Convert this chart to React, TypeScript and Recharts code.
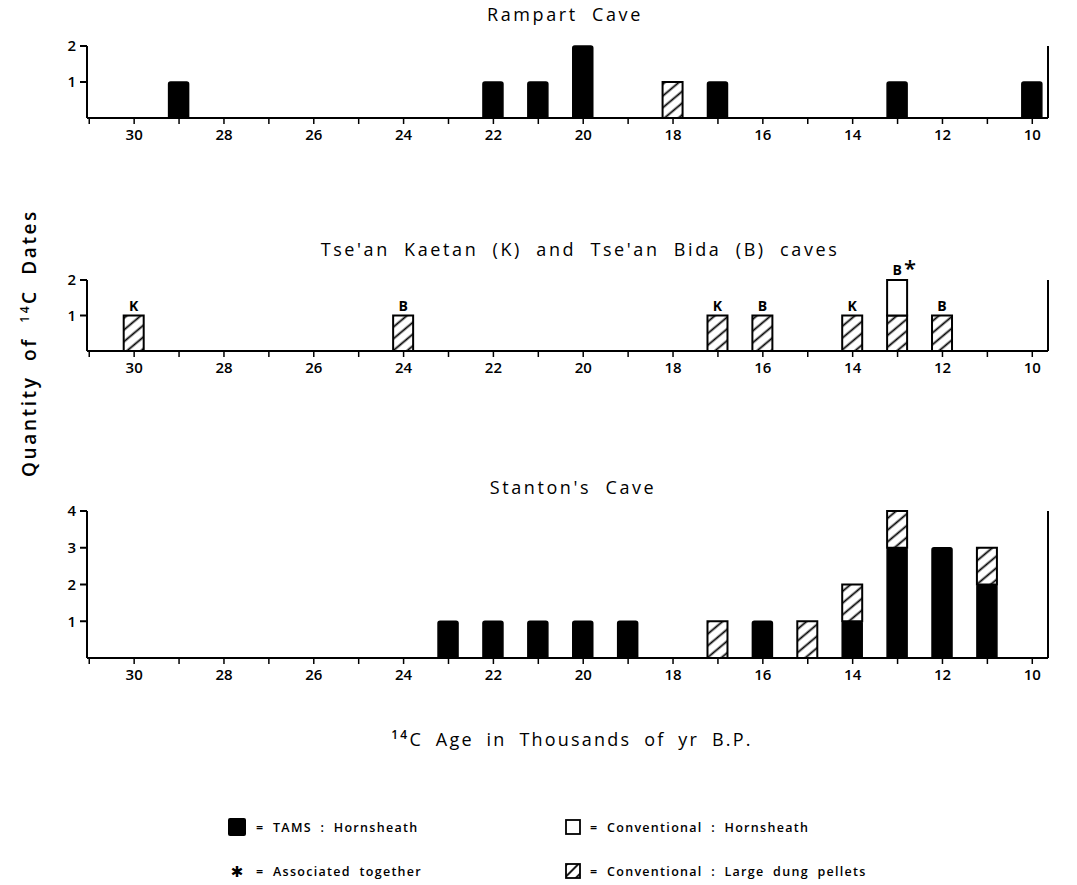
import React from 'react'
import { BarChart, Bar, XAxis, YAxis, LabelList } from 'recharts'

const YEAR_TICKS = [31, 30, 29, 28, 27, 26, 25, 24, 23, 22, 21, 20, 19, 18, 17, 16, 15, 14, 13, 12, 11, 10]

const rampartAges = [29, 22, 21, 20, 18, 17, 13, 10]
const rampartTams = [1, 1, 1, 2, 0, 1, 1, 1]
const rampartDung = [0, 0, 0, 0, 1, 0, 0, 0]
const rampartConv = [0, 0, 0, 0, 0, 0, 0, 0]

const tseanAges = [30, 24, 17, 16, 14, 13, 12]
const tseanTams = [0, 0, 0, 0, 0, 0, 0]
const tseanDung = [1, 1, 1, 1, 1, 1, 1]
const tseanConv = [0, 0, 0, 0, 0, 1, 0]
const tseanSite = ['K', 'B', 'K', 'B', 'K', 'B*', 'B']

const stantonAges = [23, 22, 21, 20, 19, 17, 16, 15, 14, 13, 12, 11]
const stantonTams = [1, 1, 1, 1, 1, 0, 1, 0, 1, 3, 3, 2]
const stantonDung = [0, 0, 0, 0, 0, 1, 0, 1, 1, 1, 0, 1]
const stantonConv = [0, 0, 0, 0, 0, 0, 0, 0, 0, 0, 0, 0]

const ticksTwo = [1, 2]
const ticksFour = [1, 2, 3, 4]

const FONT = '"Open Sans", sans-serif'
const W = 1077

function buildRows(ages: number[], tams: number[], dung: number[], conv: number[], site?: string[]) {
  return ages.map((age, i) => ({
    age,
    tams: tams[i],
    dung: dung[i],
    conv: conv[i],
    // label goes on whichever segment is on top of the stack
    siteDung: site && !conv[i] ? site[i] : undefined,
    siteConv: site && conv[i] ? site[i] : undefined,
  }))
}

const SiteLabel = (props: any) => {
  const { x, y, width, value } = props
  if (!value) return null
  const cx = x + width / 2
  const star = String(value).endsWith('*')
  return (
    <g>
      <text x={cx} y={y - 5} textAnchor="middle" fontSize={14} fontWeight={700} fontFamily={FONT} fill="#000">
        {star ? 'B' : value}
      </text>
      {star && (
        <text x={cx + 7} y={y - 4} fontSize={22} fontWeight={600} fontFamily={FONT} fill="#000">
          *
        </text>
      )}
    </g>
  )
}

function Panel({
  id,
  rows,
  top,
  height,
  marginTop,
  max,
  yTicks,
  labels,
}: {
  id: string
  rows: any[]
  top: number
  height: number
  marginTop: number
  max: number
  yTicks: number[]
  labels?: boolean
}) {
  const tickStyle = { fill: '#000', fontSize: 15, fontFamily: FONT, fontWeight: 600 }
  const axisStroke = { stroke: '#000', strokeWidth: 2 }
  return (
    <div style={{ position: 'absolute', left: 0, top }}>
      <BarChart width={W} height={height} data={rows} margin={{ top: marginTop, right: 0, left: 0, bottom: 0 }} barGap={0}>
        <defs>
          <pattern id={id} patternUnits="userSpaceOnUse" width={8} height={9} patternTransform="rotate(-40)">
            <rect width={8} height={9} fill="#fff" />
            <line x1={0} y1={4.5} x2={8} y2={4.5} stroke="#000" strokeWidth={1.8} />
          </pattern>
        </defs>
        <XAxis
          type="number"
          dataKey="age"
          domain={[9.65, 31.05]}
          allowDataOverflow
          reversed
          ticks={YEAR_TICKS}
          interval={0}
          tickFormatter={(v: number) => (v % 2 === 0 ? String(v) : '')}
          height={32}
          tickSize={6}
          tickMargin={5}
          axisLine={axisStroke}
          tickLine={{ stroke: '#000', strokeWidth: 1.5 }}
          tick={tickStyle}
        />
        <YAxis
          yAxisId="l"
          domain={[0, max]}
          ticks={yTicks}
          width={87}
          tickSize={7}
          tickMargin={4}
          axisLine={axisStroke}
          tickLine={{ stroke: '#000', strokeWidth: 2 }}
          tick={tickStyle}
        />
        <YAxis
          yAxisId="r"
          orientation="right"
          domain={[0, max]}
          ticks={yTicks}
          width={29}
          tickSize={7}
          tickMargin={4}
          axisLine={axisStroke}
          tickLine={{ stroke: '#000', strokeWidth: 2 }}
          tick={tickStyle}
        />
        <Bar yAxisId="l" dataKey="tams" stackId="s" barSize={20} fill="#000" stroke="#000" strokeWidth={1.5} radius={[2, 2, 0, 0]} isAnimationActive={false} />
        <Bar yAxisId="l" dataKey="dung" stackId="s" barSize={20} fill={`url(#${id})`} stroke="#000" strokeWidth={2} isAnimationActive={false}>
          {labels && <LabelList dataKey="siteDung" content={SiteLabel} />}
        </Bar>
        <Bar yAxisId="l" dataKey="conv" stackId="s" barSize={20} fill="#fff" stroke="#000" strokeWidth={2} isAnimationActive={false}>
          {labels && <LabelList dataKey="siteConv" content={SiteLabel} />}
        </Bar>
      </BarChart>
    </div>
  )
}

export default function App() {
  const rampart = buildRows(rampartAges, rampartTams, rampartDung, rampartConv)
  const tsean = buildRows(tseanAges, tseanTams, tseanDung, tseanConv, tseanSite)
  const stanton = buildRows(stantonAges, stantonTams, stantonDung, stantonConv)
  const title = { fontSize: 18, fontFamily: FONT, fill: '#000', letterSpacing: 2.6, wordSpacing: 7 } as const
  const axisTitle = { fontSize: 19, fontFamily: FONT, fontWeight: 600, fill: '#000', letterSpacing: 2.6, wordSpacing: 7 } as const
  const legend = { fontSize: 12.5, fontFamily: FONT, fontWeight: 600, fill: '#000', letterSpacing: 1.3, wordSpacing: 4 } as const
  return (
    <div style={{ position: 'absolute', left: 0, top: 0, width: W, height: 885, background: '#fff' }}>
      <svg width={W} height={885} style={{ position: 'absolute', left: 0, top: 0 }}>
        <defs>
          <pattern id="lgHatch" patternUnits="userSpaceOnUse" width={8} height={8} patternTransform="rotate(-45)">
            <rect width={8} height={8} fill="#fff" />
            <line x1={0} y1={4} x2={8} y2={4} stroke="#000" strokeWidth={1.8} />
          </pattern>
        </defs>
        <text x={565} y={21} textAnchor="middle" {...title}>Rampart Cave</text>
        <text x={580} y={256} textAnchor="middle" {...title}>Tse'an Kaetan (K) and Tse'an Bida (B) caves</text>
        <text x={573} y={494} textAnchor="middle" {...title}>Stanton's Cave</text>
        <text x={572} y={746} textAnchor="middle" {...title} letterSpacing={2.2} wordSpacing={6}>
          <tspan fontSize={12} fontWeight={600} dy={-7}>14</tspan>
          <tspan dy={7}>C Age in Thousands of yr B.P.</tspan>
        </text>
        <text transform="translate(36,343) rotate(-90)" textAnchor="middle" {...axisTitle}>
          Quantity of <tspan fontSize={12} dy={-7}>14</tspan>
          <tspan dy={7}>C Dates</tspan>
        </text>
        <rect x={228} y={818} width={18} height={18} rx={2} fill="#000" />
        <text x={256} y={832} {...legend}>= TAMS : Hornsheath</text>
        <rect x={566} y={820} width={14} height={14} fill="#fff" stroke="#000" strokeWidth={1.8} />
        <text x={590} y={832} {...legend}>= Conventional : Hornsheath</text>
        <text x={237} y={877} textAnchor="middle" fontSize={15} fontWeight={700} fontFamily='"DejaVu Sans", sans-serif'>✱</text>
        <text x={256} y={876} {...legend}>= Associated together</text>
        <rect x={566} y={864} width={14} height={14} fill="url(#lgHatch)" stroke="#000" strokeWidth={1.8} />
        <text x={590} y={876} {...legend}>= Conventional : Large dung pellets</text>
      </svg>
      <Panel id="hatchA" rows={rampart} top={0} height={150} marginTop={46} max={2} yTicks={ticksTwo} />
      <Panel id="hatchB" rows={tsean} top={240} height={143} marginTop={40} max={2} yTicks={ticksTwo} labels />
      <Panel id="hatchC" rows={stanton} top={470} height={220} marginTop={41} max={4} yTicks={ticksFour} />
    </div>
  )
}
